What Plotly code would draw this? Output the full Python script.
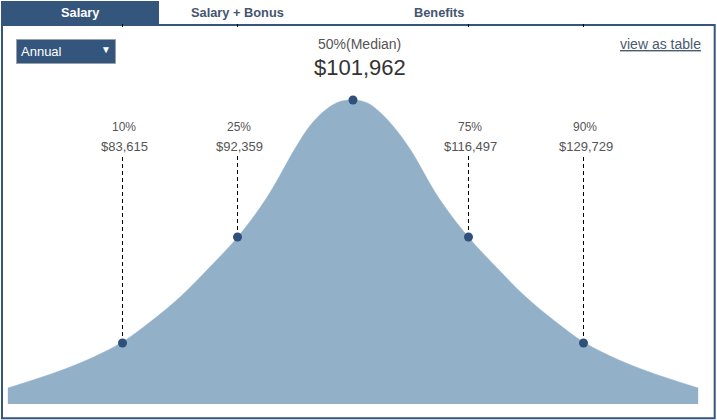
# salary distribution curve with percentile markers
import plotly.graph_objects as go

# curve, x in percentile steps, y in height above the base
curve_x = [-2.995, -2.75, -2.5, -2.25, -2.0, -1.75, -1.5, -1.25, -1.0, -0.75, -0.5, -0.375, -0.25, -0.125, 0.0,
           0.125, 0.25, 0.375, 0.5, 0.75, 1.0, 1.25, 1.5, 1.75, 2.0, 2.25, 2.5, 2.75, 2.995]
curve_y = [16, 25, 35, 47, 62, 83, 107, 136, 167, 206, 256, 278, 293, 302, 304,
           301, 290, 274, 254, 205, 167, 136, 107, 83, 62, 47, 35, 25, 16]

# percentile points
pct_x = [-2, -1.002, 0, 1.002, 2]
pct_y = [61, 167, 304, 167, 61]
pct_labels = ["10%", "25%", "50%(Median)", "75%", "90%"]
pct_wages = ["$83,615", "$92,359", "$101,962", "$116,497", "$129,729"]

tabs = ["Salary", "Salary + Bonus", "Benefits"]

NAVY = "#34567c"
W, H = 717, 420
STEP = 115.25


def px(x):
    return x / W


def py(y):
    return 1 - y / H


def label(x, y, text, size, color, anchor="center", bold=False):
    if bold:
        text = "<b>" + text + "</b>"
    return dict(x=px(x), y=py(y), xref="paper", yref="paper", text=text, showarrow=False,
                xanchor=anchor, yanchor="middle", align=anchor, borderpad=0,
                font=dict(size=size, color=color))


fig = go.Figure()

# area under the curve
fig.add_trace(go.Scatter(x=curve_x, y=curve_y, mode="lines", fill="tozeroy",
                         fillcolor="#93b0c9", line=dict(color="#93b0c9", width=0.5, shape="spline"),
                         hoverinfo="skip"))

# dashed drop lines, median has none
for i in [0, 1, 3, 4]:
    fig.add_trace(go.Scatter(x=[pct_x[i], pct_x[i]], y=[pct_y[i], 248], mode="lines",
                             line=dict(color="black", width=1, dash="4px,3px"), hoverinfo="skip"))

fig.add_trace(go.Scatter(x=pct_x, y=pct_y, mode="markers",
                         marker=dict(color="#2f5079", size=9), hoverinfo="skip"))

annotations = [
    label(80, 12.5, tabs[0], 12.8, "white", bold=True),
    label(238, 12.5, tabs[1], 12.8, "#44566f", bold=True),
    label(439, 12.5, tabs[2], 12.8, "#44566f", bold=True),
    label(20, 51, "Annual", 13, "white", "left"),
    label(106, 49.5, "▼", 10, "white"),
    label(359.8, 44, pct_labels[2], 14, "#555555"),
    label(360, 67, pct_wages[2], 22, "#333333"),
    label(702, 44, "<u>view as table</u>", 14, "#4a5a70", "right"),
]
for i, cx, wx in zip([0, 1, 3, 4], [124, 239, 470, 584.5], [124.5, 239.5, 470, 586]):
    annotations.append(label(cx, 126.5, pct_labels[i], 12, "#555555"))
    annotations.append(label(wx, 146, pct_wages[i], 13, "#555555"))

shapes = [
    # active tab
    dict(type="rect", xref="paper", yref="paper", x0=px(1), x1=px(159), y0=py(1), y1=py(25),
         fillcolor=NAVY, line=dict(width=0), layer="below"),
    # frame
    dict(type="rect", xref="paper", yref="paper", x0=px(2), x1=px(714.7), y0=py(25), y1=py(418.3),
         line=dict(color=NAVY, width=2), layer="below"),
    # select box
    dict(type="rect", xref="paper", yref="paper", x0=px(16.5), x1=px(115.5), y0=py(39.5), y1=py(63.5),
         fillcolor=NAVY, line=dict(color="#9aa0a8", width=1), layer="below"),
]
# small ticks under the frame top
for i in [0, 1, 3, 4]:
    shapes.append(dict(type="line", xref="x", yref="paper", x0=pct_x[i], x1=pct_x[i],
                       y0=py(24), y1=py(27), line=dict(color="black", width=1)))

fig.update_layout(
    width=W,
    height=H,
    margin=dict(l=0, r=0, t=0, b=0),
    paper_bgcolor="white",
    plot_bgcolor="white",
    showlegend=False,
    font=dict(family="Liberation Sans, Arial, sans-serif"),
    xaxis=dict(range=[-353 / STEP, 364 / STEP], visible=False, fixedrange=True),
    yaxis=dict(range=[-16, 404], visible=False, fixedrange=True),
    annotations=annotations,
    shapes=shapes,
)

fig.write_html("out.html", config=dict(displayModeBar=False),
               post_script="document.body.style.margin='0';")
